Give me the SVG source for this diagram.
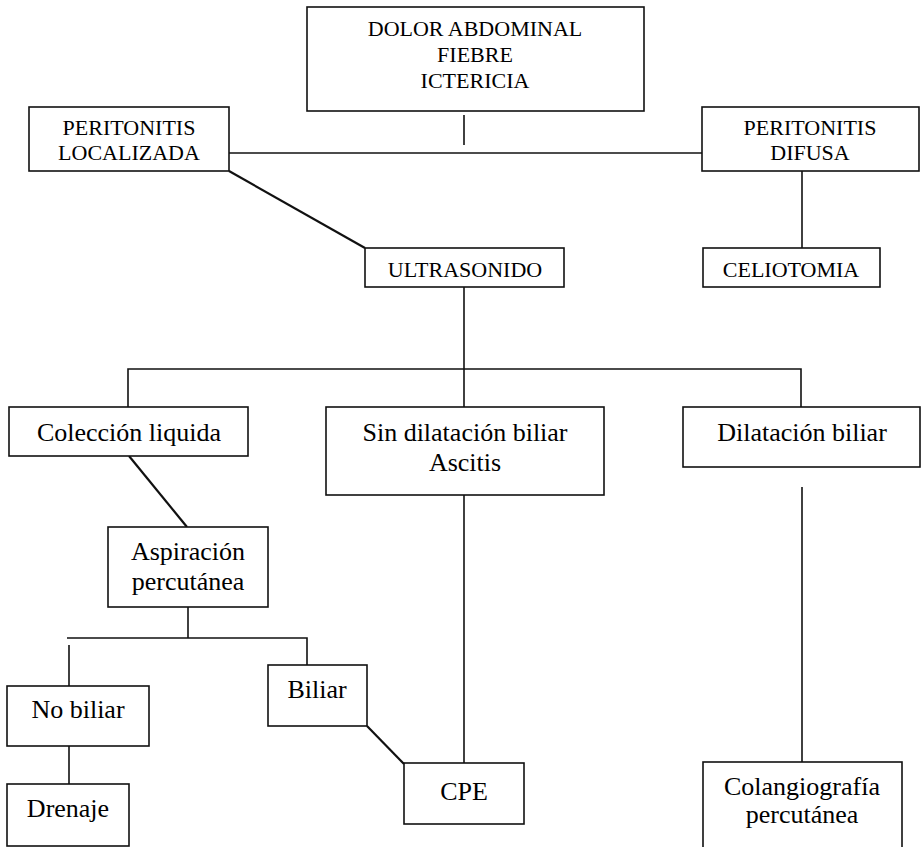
<svg xmlns="http://www.w3.org/2000/svg" width="922" height="847" viewBox="0 0 922 847">
<rect x="0" y="0" width="922" height="847" fill="#fff"/>
<g id="connectors" stroke="#111" stroke-width="1.6" fill="none">
<line x1="464" y1="115" x2="464" y2="145"/>
<line x1="229" y1="153" x2="702" y2="153"/>
<line stroke-width="2.2" x1="229" y1="171" x2="365" y2="248"/>
<line x1="802" y1="171" x2="802" y2="248"/>
<line x1="464" y1="287" x2="464" y2="407"/>
<polyline points="128,407 128,369 801,369 801,407"/>
<line stroke-width="2.2" x1="129" y1="456" x2="187" y2="527"/>
<line x1="464" y1="495" x2="464" y2="763"/>
<line x1="802" y1="487" x2="802" y2="762"/>
<line x1="188" y1="607" x2="188" y2="638"/>
<polyline points="67,638 307,638 307,665"/>
<line x1="69" y1="645" x2="69" y2="686"/>
<line x1="69" y1="746" x2="69" y2="784"/>
<line stroke-width="2.2" x1="367" y1="726" x2="404" y2="764"/>
</g>
<g id="boxes" fill="#fff" stroke="#111" stroke-width="1.6">
<rect id="b-dolor" x="307" y="7" width="337" height="104"/>
<rect id="b-perit-loc" x="29" y="107" width="200" height="64"/>
<rect id="b-perit-dif" x="702" y="107" width="217" height="64"/>
<rect id="b-ultrasonido" x="365" y="248" width="199" height="39"/>
<rect id="b-celiotomia" x="703" y="248" width="177" height="39"/>
<rect id="b-coleccion" x="9" y="407" width="239" height="49"/>
<rect id="b-sin-dilatacion" x="326" y="407" width="278" height="88"/>
<rect id="b-dilatacion" x="683" y="407" width="237" height="60"/>
<rect id="b-aspiracion" x="108" y="527" width="160" height="80"/>
<rect id="b-no-biliar" x="7" y="686" width="142" height="60"/>
<rect id="b-drenaje" x="7" y="784" width="122" height="62"/>
<rect id="b-biliar" x="268" y="665" width="99" height="61"/>
<rect id="b-cpe" x="404" y="763" width="120" height="61"/>
<rect id="b-colangiografia" x="703" y="762" width="199" height="95"/>
</g>
<g id="dolor"><text font-family="Times New Roman" font-size="22" text-anchor="middle" x="475" y="36">DOLOR ABDOMINAL</text><text font-family="Times New Roman" font-size="22" text-anchor="middle" x="475" y="62">FIEBRE</text><text font-family="Times New Roman" font-size="22" text-anchor="middle" x="475" y="88">ICTERICIA</text></g>
<g id="perit-loc"><text font-family="Times New Roman" font-size="22" text-anchor="middle" x="129" y="135">PERITONITIS</text><text font-family="Times New Roman" font-size="22" text-anchor="middle" x="129" y="160">LOCALIZADA</text></g>
<g id="perit-dif"><text font-family="Times New Roman" font-size="22" text-anchor="middle" x="810" y="135">PERITONITIS</text><text font-family="Times New Roman" font-size="22" text-anchor="middle" x="810" y="160">DIFUSA</text></g>
<g id="ultrasonido"><text font-family="Times New Roman" font-size="22" text-anchor="middle" x="465" y="277">ULTRASONIDO</text></g>
<g id="celiotomia"><text font-family="Times New Roman" font-size="22" text-anchor="middle" x="791" y="277">CELIOTOMIA</text></g>
<g id="coleccion"><text font-family="Times New Roman" font-size="26" text-anchor="middle" x="129" y="441">Colección liquida</text></g>
<g id="sin-dilatacion"><text font-family="Times New Roman" font-size="26" text-anchor="middle" x="465" y="441">Sin dilatación biliar</text><text font-family="Times New Roman" font-size="26" text-anchor="middle" x="465" y="471">Ascitis</text></g>
<g id="dilatacion"><text font-family="Times New Roman" font-size="26" text-anchor="middle" x="802" y="441">Dilatación biliar</text></g>
<g id="aspiracion"><text font-family="Times New Roman" font-size="26" text-anchor="middle" x="188" y="560">Aspiración</text><text font-family="Times New Roman" font-size="26" text-anchor="middle" x="188" y="590">percutánea</text></g>
<g id="no-biliar"><text font-family="Times New Roman" font-size="26" text-anchor="middle" x="78" y="718">No biliar</text></g>
<g id="drenaje"><text font-family="Times New Roman" font-size="26" text-anchor="middle" x="68" y="817">Drenaje</text></g>
<g id="biliar"><text font-family="Times New Roman" font-size="26" text-anchor="middle" x="317" y="698">Biliar</text></g>
<g id="cpe"><text font-family="Times New Roman" font-size="26" text-anchor="middle" x="464" y="800">CPE</text></g>
<g id="colangiografia"><text font-family="Times New Roman" font-size="26" text-anchor="middle" x="802" y="795">Colangiografía</text><text font-family="Times New Roman" font-size="26" text-anchor="middle" x="802" y="823">percutánea</text></g>
</svg>
